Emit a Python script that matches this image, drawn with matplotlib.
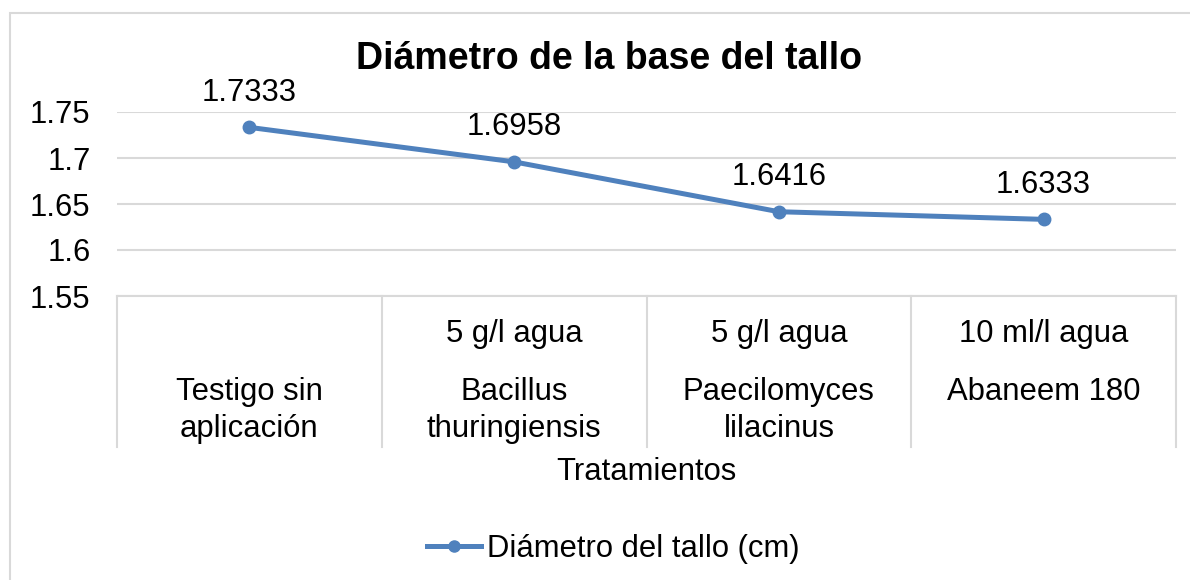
import matplotlib
matplotlib.use('Agg')
import matplotlib.pyplot as plt
from matplotlib.patches import Rectangle

# datos del grafico
dosis = ['', '5 g/l agua', '5 g/l agua', '10 ml/l agua']
tratamientos = ['Testigo sin\naplicación', 'Bacillus\nthuringiensis', 'Paecilomyces\nlilacinus', 'Abaneem 180']
diametro = [1.7333, 1.6958, 1.6416, 1.6333]
yticks = [1.55, 1.6, 1.65, 1.7, 1.75]
ytick_labels = ['1.55', '1.6', '1.65', '1.7', '1.75']

plt.rcParams['font.family'] = ['Liberation Sans', 'DejaVu Sans']
azul = '#4F81BD'
gris = '#D9D9D9'
fs = 22.3

W, H = 1190, 580
fig = plt.figure(figsize=(W / 100, H / 100), dpi=100)

# borde del area del grafico
fig.patches.append(Rectangle((10 / W, -0.1), 1.2, 1 - 13 / H + 0.1, transform=fig.transFigure,
                             fill=False, edgecolor=gris, linewidth=1.5))

left, right, top, bottom = 117, 1176, 112, 296
ax = fig.add_axes([left / W, 1 - bottom / H, (right - left) / W, (bottom - top) / H])

x = list(range(len(diametro)))
ax.plot(x, diametro, color=azul, linewidth=3.6, marker='o', markersize=9, solid_capstyle='round', zorder=3)
for xi, v in zip(x, diametro):
    ax.annotate(f'{v:.4f}', (xi, v), xytext=(0, 25), textcoords='offset points',
                ha='center', va='center', fontsize=fs)

ax.set_xlim(-0.5, len(diametro) - 0.5)
ax.set_ylim(1.55, 1.75)
ax.set_yticks(yticks)
ax.set_yticklabels(ytick_labels, fontsize=fs)
ax.tick_params(axis='y', length=0, pad=19)
ax.set_xticks([])
ax.grid(axis='y', color=gris, linewidth=1.5)
ax.set_axisbelow(True)
for s in ['left', 'right', 'top']:
    ax.spines[s].set_visible(False)
ax.spines['bottom'].set_color(gris)
ax.spines['bottom'].set_linewidth(1.5)

# etiquetas de categorias en dos niveles
tr = ax.get_xaxis_transform()
h = bottom - top
for xi, d, t in zip(x, dosis, tratamientos):
    ax.text(xi, -(334 - bottom) / h, d, transform=tr, ha='center', va='center', fontsize=fs)
    nl = t.count('\n') + 1
    yc = 392 + (nl - 1) * 37 / 2
    ax.text(xi, -(yc - bottom) / h, t, transform=tr, ha='center', va='center', fontsize=fs,
            linespacing=1.3)

# separadores de categorias
for b in [i - 0.5 for i in range(len(diametro) + 1)]:
    ax.plot([b, b], [0, -(447 - bottom) / h], transform=tr, color=gris, linewidth=1.5, clip_on=False)

ax.text(0.5, -(472 - bottom) / h, 'Tratamientos', transform=ax.transAxes, ha='center', va='center', fontsize=fs)

fig.text(609 / W, 1 - 59 / H, 'Diámetro de la base del tallo', ha='center', va='center',
         fontsize=27, fontweight='bold')

handle, = ax.plot([], [], color=azul, linewidth=3.6, marker='o', markersize=8)
fig.legend([handle], ['Diámetro del tallo (cm)'], loc='center', bbox_to_anchor=(613 / W, 1 - 549 / H),
           frameon=False, fontsize=fs, handlelength=1.75, handletextpad=0.2)

fig.savefig('out.png', dpi=100)
